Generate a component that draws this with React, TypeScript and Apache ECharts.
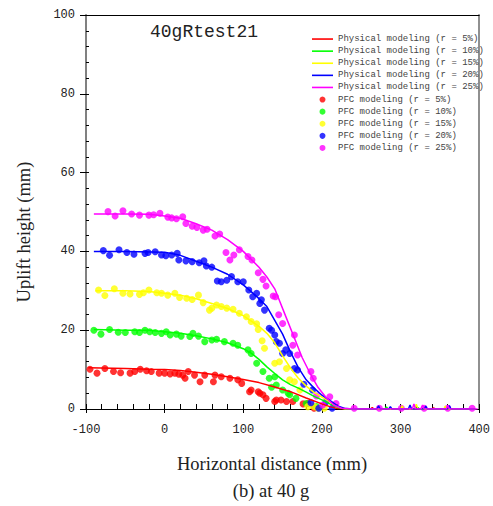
import React, { useEffect, useRef } from "react";
import * as echarts from "echarts";

const X_MIN = -100;
const X_MAX = 400;
const Y_MIN = 0;
const Y_MAX = 100;

const lineNames = [
  "Physical modeling (r = 5%)",
  "Physical modeling (r = 10%)",
  "Physical modeling (r = 15%)",
  "Physical modeling (r = 20%)",
  "Physical modeling (r = 25%)",
];
const pfcNames = [
  "PFC modeling (r = 5%)",
  "PFC modeling (r = 10%)",
  "PFC modeling (r = 15%)",
  "PFC modeling (r = 20%)",
  "PFC modeling (r = 25%)",
];
const colors = ["#ff0000", "#00ff00", "#ffff00", "#0000ff", "#ff00ff"];

const phys5 = [[-97,10.5],[-50,10.3],[-20,10.1],[0,10],[20,9.8],[40,9.3],[60,8.8],[80,8.2],[100,7.5],[120,6.7],[140,5.6],[160,4.4],[180,2.8],[200,1.3],[210,0.6],[220,0.1],[230,0],[262,0],[264,0.4],[266,0],[300,0],[302,0.5],[304,0],[340,0],[342,0.3],[344,0],[390,0]];
const phys10 = [[-90,20.2],[-50,20],[-20,20],[0,19.6],[20,19.2],[40,18.6],[60,17.8],[80,16.8],[100,15.3],[110,14.2],[120,12.6],[130,10.7],[140,9],[150,7.4],[160,6.2],[170,5.3],[180,4.3],[190,3.2],[200,2.3],[210,1.3],[220,0.4],[230,0],[280,0],[282,0.5],[284,0],[320,0],[322,0.4],[324,0],[395,0]];
const phys15 = [[-88,30],[-50,30],[-20,29.8],[0,29.4],[20,28.9],[40,28],[60,26.8],[80,25.5],[100,23.7],[120,21],[130,19.2],[140,16.8],[150,13.5],[160,10.4],[170,7.8],[180,5.8],[190,4.2],[200,3],[210,1.8],[220,0.6],[230,0],[300,0],[302,0.8],[304,0],[318,0],[320,1.2],[322,0],[355,0],[357,0.7],[359,0],[395,0]];
const phys20 = [[-90,40],[-50,40],[0,39.8],[20,39],[40,37.5],[60,36],[80,34.2],[100,31.5],[110,29.8],[120,28],[130,26],[140,22.5],[150,19],[160,14.5],[170,10.5],[180,7.4],[190,5.3],[200,3.5],[210,2.2],[220,0.8],[230,0.1],[240,0],[270,0],[272,0.8],[274,0],[285,0],[287,0.6],[289,0],[310,0],[312,1],[314,0],[330,0],[332,0.7],[334,0],[360,0],[362,0.9],[364,0],[395,0]];
const phys25 = [[-90,49.5],[-50,49.5],[-20,49.4],[0,49],[20,48.4],[40,47],[60,45.4],[80,43],[100,40],[120,36],[130,33.5],[140,30.5],[155,23],[165,18],[175,13],[185,9],[195,5.5],[205,3],[215,1],[225,0.2],[240,0],[315,0],[317,1.3],[319,0],[326,0],[328,1],[330,0],[358,0],[360,0.9],[362,0],[398,0]];

const pfc5 = [[-95,10.1],[-86,9.1],[-76,10.3],[-65,9.5],[-56,9.2],[-44,9.1],[-38,9.5],[-31,10.1],[-23,9.7],[-17,9.5],[-7,9.1],[0,9.1],[7,8.9],[13,9.1],[18,8.8],[23,8.6],[26,7.8],[30,9.5],[38,8.6],[45,6.9],[51,8.6],[62,6.9],[64,8.6],[72,8.2],[83,7.8],[93,7.4],[98,6.5],[108,4.4],[110,4.8],[119,4.4],[121,4],[125,3.6],[129,2.7],[140,1.9],[142,2.3],[148,2.3],[155,1.9],[163,1.9],[176,1.3],[182,1.4],[190,0.2]];
const pfc10 = [[-90,20],[-81,19],[-70,20.2],[-59,19.5],[-50,19.4],[-38,19.6],[-32,19.4],[-25,20],[-19,19.6],[-12,19.4],[-4,19.2],[2,19.6],[7,18.8],[15,19],[21,18.5],[32,18.4],[36,19.2],[43,18.5],[51,17.1],[60,17.5],[66,17.7],[76,17.1],[87,16.7],[93,16.2],[106,15],[110,14.1],[117,11.6],[125,9.5],[133,7.8],[136,5.5],[140,8.2],[142,6.1],[150,4.8],[157,4],[159,3.6],[167,2.7],[180,1.4],[193,0.6]];
const pfc15 = [[-84,30.2],[-76,28.8],[-64,30.5],[-53,29.4],[-44,29.2],[-32,29.1],[-27,29.5],[-20,30.2],[-10,29.5],[-4,29.4],[4,28.9],[13,29.4],[19,28.3],[28,28.1],[35,27.8],[43,28.9],[49,27],[57,25.1],[60,25.6],[66,26.4],[72,26],[79,25.6],[87,25.3],[95,24.3],[104,23.4],[110,22.2],[117,21.6],[119,20.2],[124,17.3],[127,15.4],[140,11.6],[146,12],[155,10.3],[159,7.4],[165,6.9],[172,4.8],[182,0.6],[190,0.6],[195,0.2],[203,0.2]];
const pfc20 = [[-78,40.2],[-70,39],[-58,40.4],[-48,39.7],[-39,39.3],[-25,39.5],[-21,39.7],[-12,39.9],[-4,39.1],[1.5,38.9],[9,39.1],[16,39.5],[18,37.8],[27,37.6],[35,37.4],[44,37.1],[50,37.6],[53,36.3],[60,36],[67,32.5],[72,32.3],[79,32.7],[85,33.6],[93,32.3],[100,32.3],[107,30.2],[112,28.5],[117,29.4],[123,27.7],[121,26.8],[127,25.1],[133,20.5],[136,20],[140,18.8],[142,17.1],[146,16.7],[150,14.1],[154,15],[159,14.1],[165,10.3],[169,9.9],[177,6.3],[188,4.8],[186,1.6],[196,0.2],[205,1.8],[213,0.2]];
const pfc25 = [[-72,50.1],[-63,49],[-53,50.3],[-42,49.5],[-32,49.2],[-20,49.2],[-14,49.3],[-6,49.7],[4,48.7],[9,48.5],[15,48.3],[23,48.8],[27,47.1],[35,46.4],[41,46.1],[49,45.4],[54,45.6],[64,43.9],[70,44.4],[78,39.7],[83,37.8],[88,39.1],[95,40.4],[106,38.7],[111,37.8],[119,34.6],[125,32.9],[129,31.2],[138,28.7],[141,28.5],[145,23.9],[150,21.7],[165,18.8],[163,16.2],[169,13.7],[186,9.5],[189,7.8],[193,3.3],[201,1],[210,3.1],[218,1.4],[241,0.2],[273,0.2],[301,0.2],[330,0.2],[360,0.2],[391,0.2]];

const physData = [phys5, phys10, phys15, phys20, phys25];
const pfcData = [pfc5, pfc10, pfc15, pfc20, pfc25];

const chartTitle = "40gRtest21";
const xName = "Horizontal distance (mm)";
const yName = "Uplift height (mm)";
const caption = "(b) at 40 g";

const mono = "'Liberation Mono', 'DejaVu Sans Mono', monospace";
const serif = "'Liberation Serif', 'DejaVu Serif', serif";
const lineIcon = "path://M0,0 L21,0 L21,1.6 L0,1.6 Z";

export default function App() {
  const ref = useRef<HTMLDivElement>(null);
  useEffect(() => {
    if (!ref.current) return;
    const chart = echarts.init(ref.current, null, { renderer: "svg" });
    const noSplit = { show: false };
    const option: any = {
      animation: false,
      backgroundColor: "#ffffff",
      grid: { left: 86, right: 13, top: 15, bottom: 97, containLabel: false },
      legend: {
        orient: "vertical",
        left: 312,
        top: 33,
        itemWidth: 21,
        itemHeight: 6,
        itemGap: 0,
        padding: 0,
        textStyle: { fontFamily: mono, fontSize: 9, color: "#444", lineHeight: 12.1 },
        data: [
          ...lineNames.map((n) => ({ name: n, icon: lineIcon })),
          ...pfcNames.map((n) => ({ name: n, icon: "circle" })),
        ],
      },
      xAxis: [
        {
          type: "value", min: X_MIN, max: X_MAX, interval: 100, position: "bottom",
          axisLine: { show: true, onZero: false, lineStyle: { color: "#000", width: 1.2 } },
          axisTick: { show: true, inside: false, length: 4, lineStyle: { color: "#000" } },
          axisLabel: { fontFamily: mono, fontSize: 12, color: "#222", margin: 15 },
          splitLine: noSplit,
        },
        {
          type: "value", min: X_MIN, max: X_MAX, interval: 20, position: "bottom",
          axisLine: { show: false, onZero: false },
          axisTick: { show: true, inside: true, length: 5, lineStyle: { color: "#000" } },
          axisLabel: { show: false },
          splitLine: noSplit,
        },
        {
          type: "value", min: X_MIN, max: X_MAX, position: "top",
          axisLine: { show: true, onZero: false, lineStyle: { color: "#000", width: 1 } },
          axisTick: { show: false },
          axisLabel: { show: false },
          splitLine: noSplit,
        },
      ],
      yAxis: [
        {
          type: "value", min: Y_MIN, max: Y_MAX, interval: 20, position: "left",
          axisLine: { show: true, onZero: false, lineStyle: { color: "#808080", width: 2 } },
          axisTick: { show: true, inside: false, length: 6, lineStyle: { color: "#000" } },
          axisLabel: { fontFamily: mono, fontSize: 12, color: "#222", margin: 11 },
          splitLine: noSplit,
        },
        {
          type: "value", min: Y_MIN, max: Y_MAX, interval: 4, position: "left",
          axisLine: { show: false, onZero: false },
          axisTick: { show: true, inside: true, length: 3, lineStyle: { color: "#000" } },
          axisLabel: { show: false },
          splitLine: noSplit,
        },
        {
          type: "value", min: Y_MIN, max: Y_MAX, position: "right",
          axisLine: { show: true, onZero: false, lineStyle: { color: "#909090", width: 2 } },
          axisTick: { show: false },
          axisLabel: { show: false },
          splitLine: noSplit,
        },
      ],
      graphic: [
        { type: "text", left: 150, top: 23, style: { text: chartTitle, fontFamily: mono, fontSize: 18, fill: "#222" } },
        { type: "text", x: 272, y: 473, style: { text: xName, fontFamily: serif, fontSize: 18.5, fill: "#222", textAlign: "center", textVerticalAlign: "bottom" } },
        { type: "text", x: 271, y: 500, style: { text: caption, fontFamily: serif, fontSize: 18.5, fill: "#222", textAlign: "center", textVerticalAlign: "bottom" } },
        { type: "text", x: 24, y: 232, rotation: Math.PI / 2, style: { text: yName, fontFamily: serif, fontSize: 18.5, fill: "#222", textAlign: "center", textVerticalAlign: "middle" } },
      ],
      series: [
        ...physData.map((d, i) => ({
          name: lineNames[i], type: "line", xAxisIndex: 0, yAxisIndex: 0,
          data: d, symbol: "none", showSymbol: false,
          lineStyle: { color: colors[i], width: 1.5 }, itemStyle: { color: colors[i] },
        })),
        ...pfcData.map((d, i) => ({
          name: pfcNames[i], type: "scatter", xAxisIndex: 0, yAxisIndex: 0,
          data: d, symbol: "circle", symbolSize: 7,
          itemStyle: { color: colors[i] },
        })),
      ],
    };
    chart.setOption(option);
    return () => chart.dispose();
  }, []);
  return <div ref={ref} style={{ width: 493, height: 506, position: "absolute", left: 0, top: 0 }} />;
}
